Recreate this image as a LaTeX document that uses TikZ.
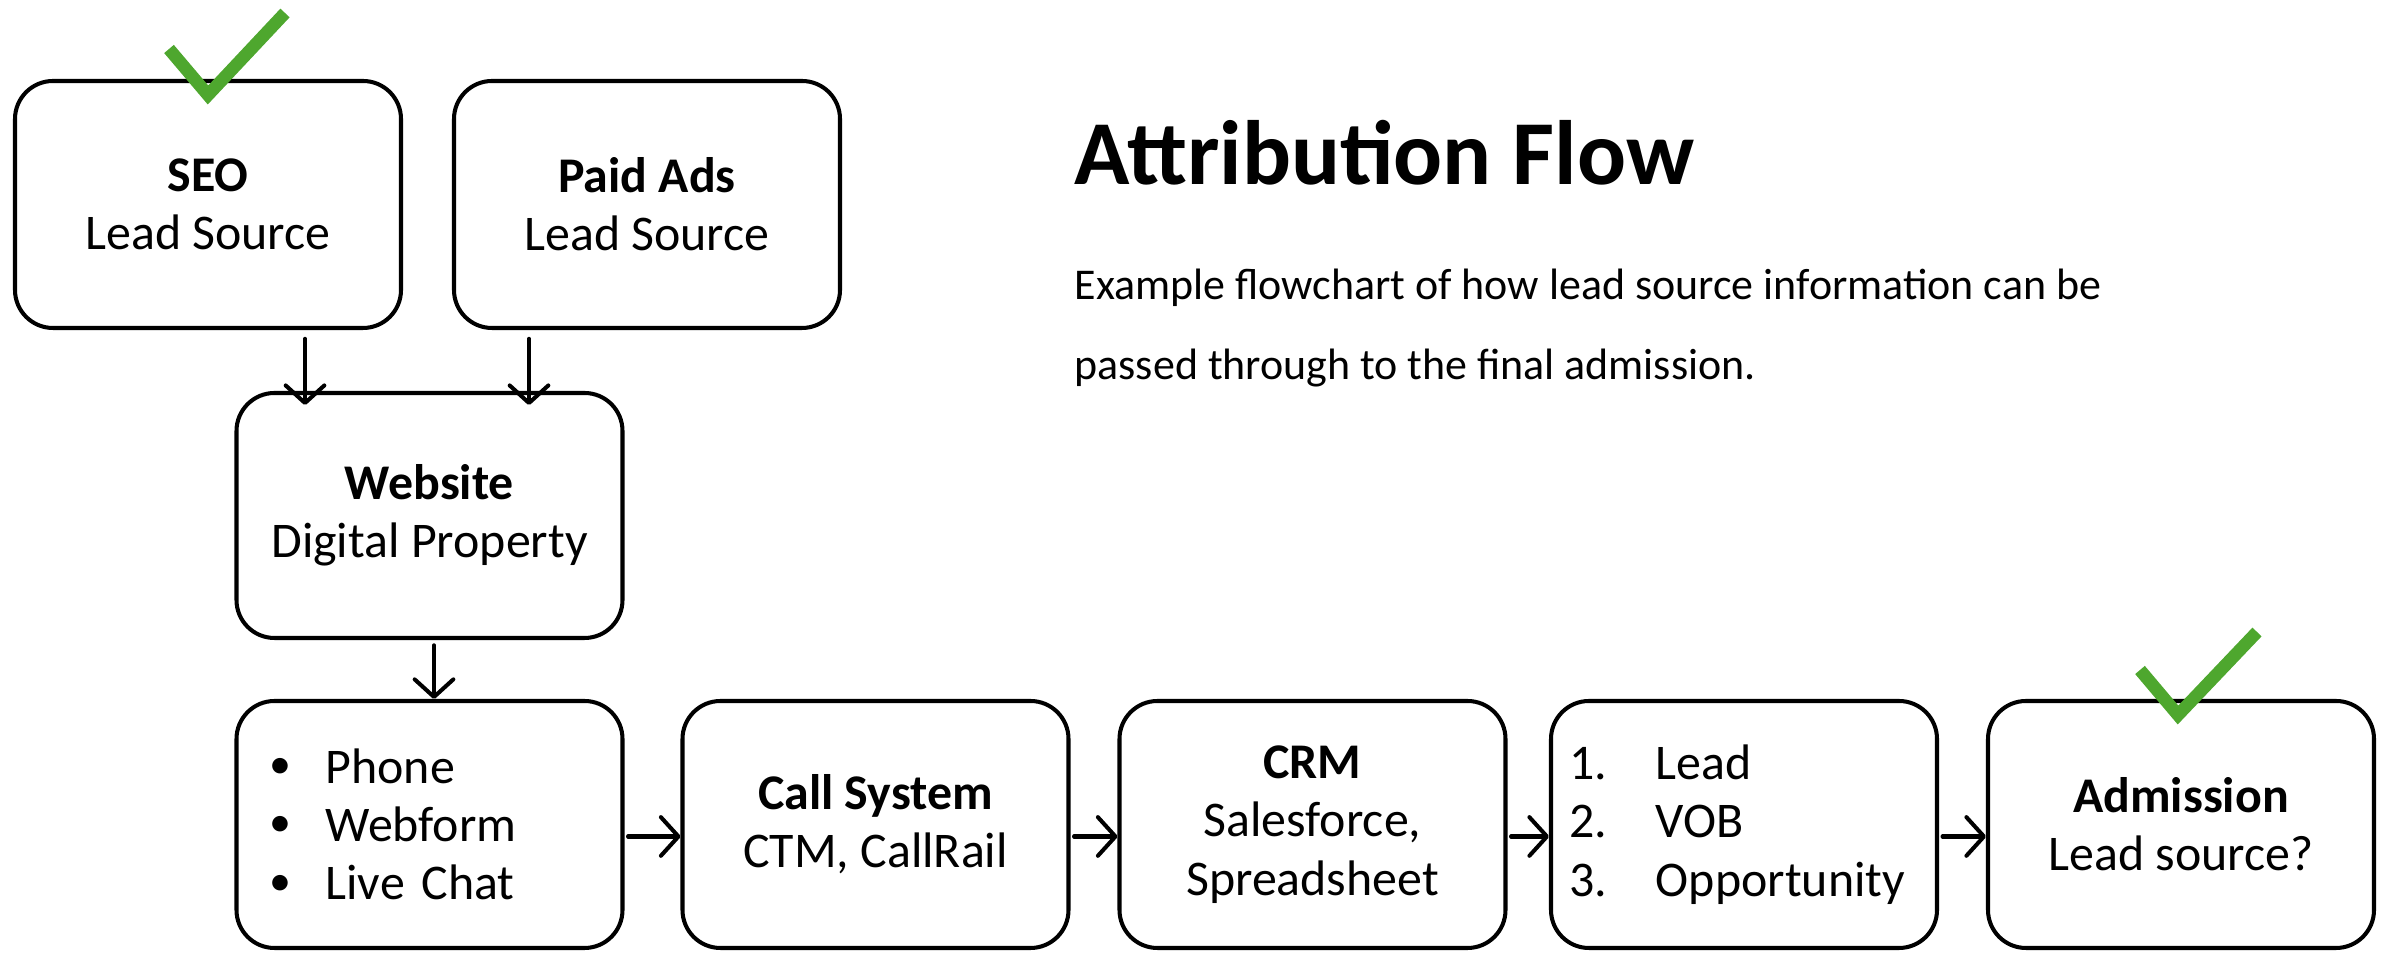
\documentclass[tikz,border=0pt]{standalone}
\usepackage{fontspec}
\setmainfont{Carlito}
\usetikzlibrary{arrows.meta}
\definecolor{checkgreen}{HTML}{4EA72E}
\newcommand{\mybul}{\makebox[0.6cm][l]{\hspace{0.04cm}\raisebox{0.2ex}{\fontsize{12.5}{12}\selectfont\textbullet}}}
\begin{document}
\begin{tikzpicture}[
  box/.style={draw=black, line width=1.15pt, rounded corners=0.38cm, minimum width=3.86cm, minimum height=2.47cm, align=center, font=\fontsize{14.2}{16.6}\selectfont, inner sep=0pt},
  listbox/.style={box, align=left, text width=#1},
  conn/.style={line width=1.15pt, line cap=round, -{Straight Barb[length=5pt,width=11pt,line width=1.15pt,round]}},
  check/.style={draw=checkgreen, line width=3.6pt, line cap=butt, line join=miter},
  titletext/.style={anchor=base west, inner sep=0pt, font=\fontsize{26}{30}\selectfont\bfseries},
  desctext/.style={anchor=base west, inner sep=0pt, font=\fontsize{12.5}{15}\selectfont}
]
\useasboundingbox (0,0) rectangle (23.89,9.53);

% top boxes
\node[box] (seo) at (2.08,7.485) {\textbf{SEO}\\Lead Source};
\node[box] (paid) at (6.47,7.485) {\textbf{Paid Ads}\\Lead Source};
\node[box, minimum height=2.45cm] (web) at (4.295,4.375) {\textbf{Website}\\Digital Property};

% bottom row
\node[listbox=3.28cm] (chan) at (4.295,1.285) {\mybul Phone\\\mybul Webform\\\mybul Live Chat};
\node[box] (call) at (8.755,1.285) {\textbf{Call System}\\CTM, CallRail};
\node[box] (crm) at (13.125,1.285) {\textbf{CRM}\\Salesforce,\\Spreadsheet};
\node[listbox=3.5cm] (stage) at (17.44,1.285) {\makebox[0.87cm][l]{1.}Lead\\\makebox[0.87cm][l]{2.}VOB\\\makebox[0.87cm][l]{3.}Opportunity};
\node[box] (adm) at (21.81,1.285) {\textbf{Admission}\\Lead source?};

% title and description
\node[titletext] (title) at (10.74,7.68) {Attribution Flow};
\node[desctext] (desc1) at (10.74,6.53) {Example flowchart of how lead source information can be};
\node[desctext] (desc2) at (10.74,5.73) {passed through to the final admission.};

% connectors
\coordinate (xa) at (3.05,0);
\coordinate (xb) at (5.29,0);
\coordinate (xc) at (4.34,0);
\draw[conn, shorten <=2.5pt, shorten >=-4pt] (seo.south -| xa) -- (web.north -| xa);
\draw[conn, shorten <=2.5pt, shorten >=-4pt] (paid.south -| xb) -- (web.north -| xb);
\draw[conn, shorten <=1.5pt] (web.south -| xc) -- (chan.north -| xc);
\draw[conn, shorten <=1pt] ([yshift=-0.12cm]chan.east) -- ([yshift=-0.12cm]call.west);
\draw[conn, shorten <=1pt] ([yshift=-0.12cm]call.east) -- ([yshift=-0.12cm]crm.west);
\draw[conn, shorten <=1pt] ([yshift=-0.12cm]crm.east) -- ([yshift=-0.12cm]stage.west);
\draw[conn, shorten <=1pt] ([yshift=-0.12cm]stage.east) -- ([yshift=-0.12cm]adm.west);

% check marks
\draw[check] (1.69,9.04) -- (2.08,8.58) -- (2.85,9.40);
\draw[check] (21.40,2.83) -- (21.78,2.38) -- (22.57,3.21);
\end{tikzpicture}
\end{document}
